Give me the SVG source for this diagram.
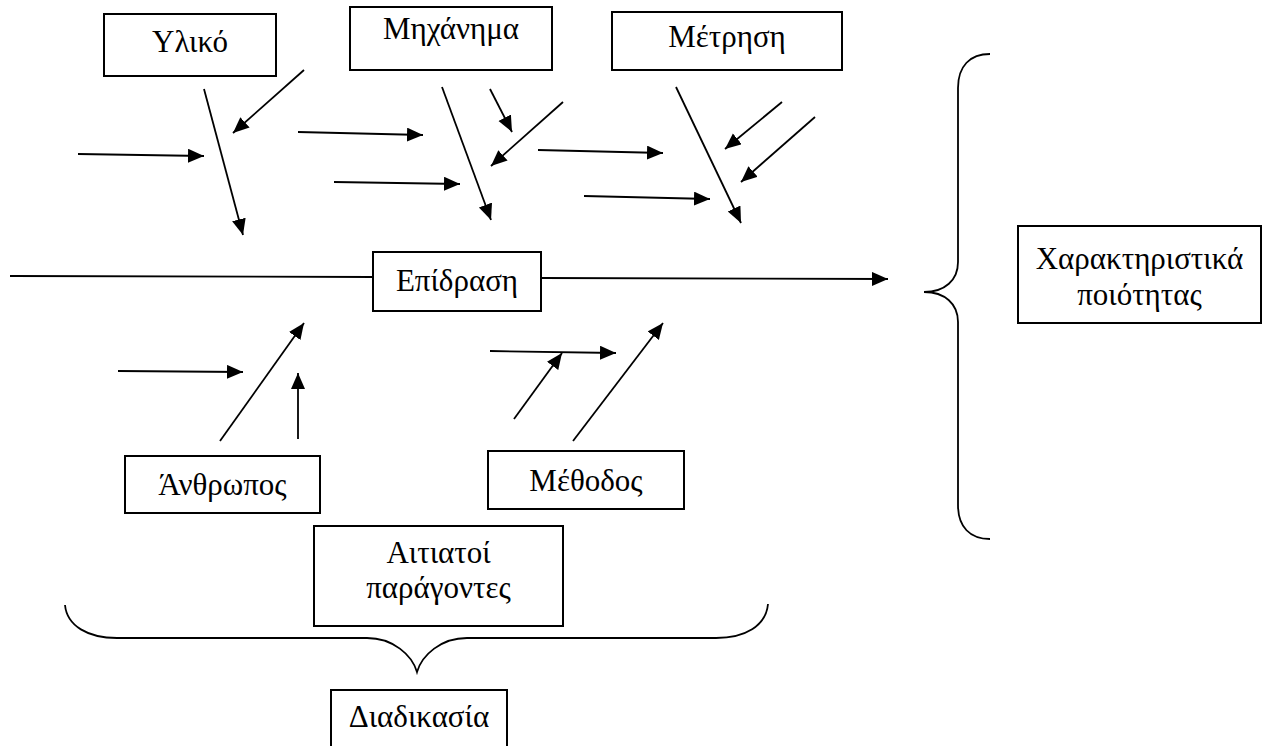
<svg xmlns="http://www.w3.org/2000/svg" width="1267" height="746" viewBox="0 0 1267 746">
  <style>
    .box { fill: #ffffff; stroke: #000000; stroke-width: 2; }
    .lbl { font-family: "Liberation Serif", "DejaVu Serif", serif; font-size: 31px; fill: #000000; text-anchor: middle; }
    .ln { stroke: #000000; stroke-width: 1.8; fill: none; }
    .arr { stroke: #000000; stroke-width: 1.8; fill: none; marker-end: url(#head); }
    .brace { stroke: #000000; stroke-width: 1.8; fill: none; }
  </style>
  <defs>
    <marker id="head" markerUnits="userSpaceOnUse" markerWidth="17" markerHeight="15" refX="16" refY="7" orient="auto">
      <path d="M0,0 L16,7 L0,14 z" fill="#000000"/>
    </marker>
  </defs>
  <rect width="1267" height="746" fill="#ffffff"/>

  <!-- cause groups -->
  <g id="yliko">
    <rect class="box" x="104" y="14" width="172" height="62"/>
    <text class="lbl" x="190" y="52">Υλικό</text>
  </g>
  <g id="michanima">
    <rect class="box" x="350" y="7" width="202" height="63"/>
    <text class="lbl" x="451" y="39">Μηχάνημα</text>
  </g>
  <g id="metrisi">
    <rect class="box" x="612" y="12" width="230" height="58"/>
    <text class="lbl" x="727" y="47">Μέτρηση</text>
  </g>
  <g id="epidrasi">
    <rect class="box" x="373" y="252" width="168" height="59"/>
    <text class="lbl" x="457" y="291">Επίδραση</text>
  </g>
  <g id="anthropos">
    <rect class="box" x="125" y="456" width="195" height="57"/>
    <text class="lbl" x="222.5" y="495">Άνθρωπος</text>
  </g>
  <g id="methodos">
    <rect class="box" x="488" y="451" width="196" height="58"/>
    <text class="lbl" x="586" y="491">Μέθοδος</text>
  </g>
  <g id="charaktiristika">
    <rect class="box" x="1018" y="226" width="243" height="97"/>
    <text class="lbl" x="1139.5" y="269">Χαρακτηριστικά</text>
    <text class="lbl" x="1139.5" y="305">ποιότητας</text>
  </g>
  <g id="aitiatoi">
    <rect class="box" x="314" y="526" width="249" height="100"/>
    <text class="lbl" x="438.5" y="563">Αιτιατοί</text>
    <text class="lbl" x="438.5" y="598">παράγοντες</text>
  </g>
  <g id="diadikasia">
    <rect class="box" x="331" y="690" width="176" height="70"/>
    <text class="lbl" x="419" y="727">Διαδικασία</text>
  </g>

  <!-- braces -->
  <g id="braces">
    <path class="brace" d="M990,54 C970,54 958,66 958,88 L958,262 C958,280 945,292 924,292 C945,292 958,304 958,322 L958,505 C958,527 970,539 990,539"/>
    <path class="brace" d="M65,605 C67,626 88,638 117,638 L367,638 C393,638 412,655 417,672 C422,655 441,638 467,638 L716,638 C745,638 766,626 768,604"/>
  </g>

  <!-- connectors -->
  <g id="connectors">
    <!-- spine -->
    <line class="ln" x1="10" y1="276" x2="373" y2="277"/>
    <line class="arr" x1="541" y1="278" x2="888" y2="279"/>

    <!-- Υλικό -->
    <line class="arr" x1="204" y1="89" x2="243" y2="235"/>
    <line class="arr" x1="304" y1="70" x2="233" y2="133"/>
    <line class="arr" x1="78" y1="154" x2="204" y2="156"/>

    <!-- Μηχάνημα -->
    <line class="arr" x1="442" y1="87" x2="491" y2="220"/>
    <line class="arr" x1="490" y1="89" x2="512" y2="132"/>
    <line class="arr" x1="563" y1="102" x2="491" y2="166"/>
    <line class="arr" x1="298" y1="132" x2="423" y2="135"/>
    <line class="arr" x1="334" y1="182" x2="460" y2="184"/>

    <!-- Μέτρηση -->
    <line class="arr" x1="676" y1="87" x2="741" y2="223"/>
    <line class="arr" x1="782" y1="102" x2="725" y2="149"/>
    <line class="arr" x1="815" y1="117" x2="741" y2="182"/>
    <line class="arr" x1="538" y1="150" x2="663" y2="153"/>
    <line class="arr" x1="584" y1="196" x2="710" y2="199"/>

    <!-- Άνθρωπος -->
    <line class="arr" x1="220" y1="441" x2="304" y2="323"/>
    <line class="arr" x1="298" y1="439" x2="298" y2="373"/>
    <line class="arr" x1="118" y1="371" x2="243" y2="372"/>

    <!-- Μέθοδος -->
    <line class="arr" x1="573" y1="441" x2="663" y2="323"/>
    <line class="arr" x1="514" y1="419" x2="562" y2="353"/>
    <line class="arr" x1="490" y1="351" x2="616" y2="353"/>
  </g>
</svg>
